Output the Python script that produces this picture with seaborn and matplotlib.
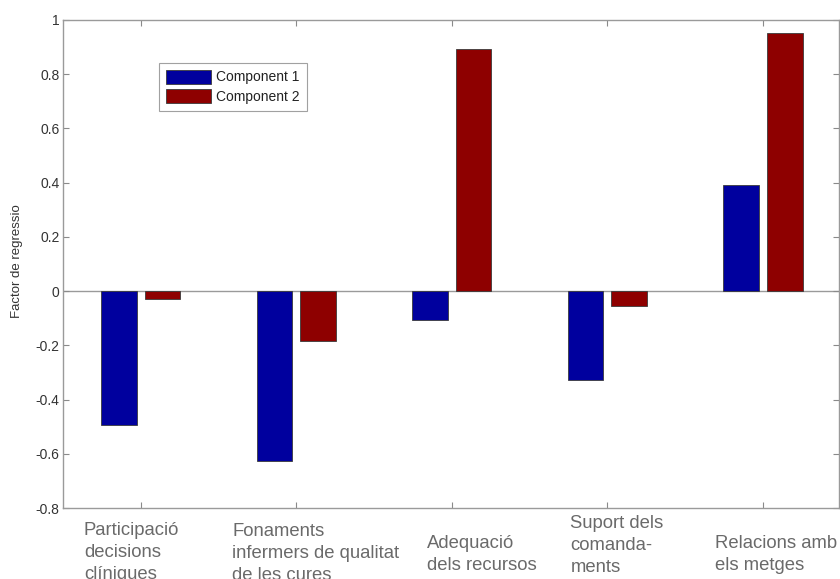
import matplotlib
matplotlib.use("Agg")
import matplotlib.pyplot as plt
import seaborn as sns
import pandas as pd

# Regression factors per dimension and component
categories = [
    "Participació\ndecisions\nclíniques",
    "Fonaments\ninfermers de qualitat\nde les cures",
    "Adequació\ndels recursos",
    "Suport dels\ncomanda-\nments",
    "Relacions amb\nels metges",
]
component_1 = [-0.495, -0.627, -0.107, -0.328, 0.391]
component_2 = [-0.030, -0.185, 0.893, -0.055, 0.951]
series_names = ["Component 1", "Component 2"]
y_ticks = [-0.8, -0.6, -0.4, -0.2, 0, 0.2, 0.4, 0.6, 0.8, 1]
y_tick_labels = ["-0.8", "-0.6", "-0.4", "-0.2", "0", "0.2", "0.4", "0.6", "0.8", "1"]

df = pd.DataFrame({
    "cat": list(range(len(categories))) * 2,
    "component": [series_names[0]] * len(categories) + [series_names[1]] * len(categories),
    "value": component_1 + component_2,
})

sns.set_theme(style="white")
plt.rcParams["font.family"] = ["Liberation Sans", "DejaVu Sans"]

fig = plt.figure(figsize=(8.40, 5.79), dpi=100)
ax = fig.add_axes([0.075, 0.1226, 0.924, 0.8429])

sns.barplot(
    data=df, x="cat", y="value", hue="component", hue_order=series_names,
    palette=["#00009E", "#8E0000"], saturation=1, width=0.56, gap=0.18,
    edgecolor="#3a3a3a", linewidth=0.6, ax=ax, legend=True,
)

ax.set_xlim(-0.5, 4.49)
ax.set_ylim(-0.8, 1.0)
ax.set_yticks(y_ticks)
ax.set_yticklabels(y_tick_labels, fontsize=10, color="#333333")
ax.set_xticks(range(len(categories)))
ax.set_xticklabels([""] * len(categories))
ax.set_xlabel("")
ax.set_ylabel("Factor de regressio", fontsize=9.5, color="#333333")
ax.yaxis.set_label_coords(-0.0515, 0.505)

# baseline at zero
ax.axhline(0, color="#9a9a9a", lw=1.0, zorder=0.5)

for s in ax.spines.values():
    s.set_color("#9a9a9a")
    s.set_linewidth(1.0)
ax.tick_params(axis="both", direction="in", length=4, width=0.8, color="#8a8a8a",
               top=True, right=True, bottom=True, left=True, pad=2.5)

# multi-line category captions below the axis, left-aligned blocks
label_dx = [-57, -64, -25, -37, -48]
label_dy = [-14, -15, -27, -7, -27]
for i, (txt, dx, dy) in enumerate(zip(categories, label_dx, label_dy)):
    ax.annotate(txt, xy=(i, 0), xycoords=ax.get_xaxis_transform(),
                xytext=(dx * 0.72, dy * 0.72), textcoords="offset points",
                ha="left", va="top", fontsize=13.3, color="#6a6a6a",
                linespacing=1.4, annotation_clip=False)

leg = ax.legend(loc="upper left", bbox_to_anchor=(0.124, 0.912), borderaxespad=0,
                fontsize=10, frameon=True, fancybox=False, shadow=False,
                handlelength=3.25, handleheight=1.15, labelspacing=0.36,
                handletextpad=0.36, borderpad=0.5, title=None)
leg.get_frame().set_edgecolor("#8a8a8a")
leg.get_frame().set_linewidth(0.8)
for t in leg.get_texts():
    t.set_color("#222222")

fig.savefig("out.png", dpi=100)
